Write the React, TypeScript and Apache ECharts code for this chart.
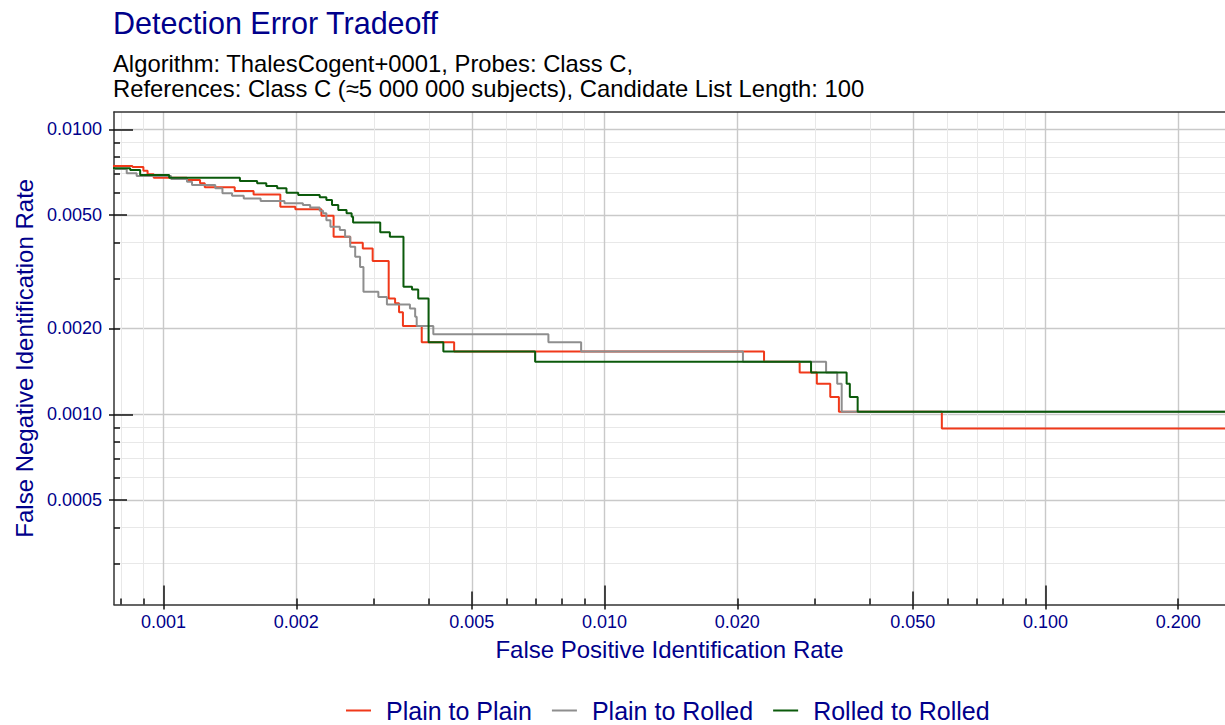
import React, { useEffect, useRef } from "react";
import * as echarts from "echarts";

const TEXT_BLUE = "#00008B";
const FONT = "Liberation Sans, Arial, Helvetica, sans-serif";

const titleText = "Detection Error Tradeoff";
const subtitleLines = [
  "Algorithm: ThalesCogent+0001, Probes: Class C,",
  "References: Class C (\u22485 000 000 subjects), Candidate List Length: 100",
];
const xAxisName = "False Positive Identification Rate";
const yAxisName = "False Negative Identification Rate";

const seriesNames = ["Plain to Plain", "Plain to Rolled", "Rolled to Rolled"];
const seriesColors = ["#f0391a", "#8e8e8e", "#0b5a0b"];

// Plain to Plain (FPIR, FNIR) – step drops
const plainPlainFpir = [0.0007, 0.00085, 0.0009, 0.00092, 0.00095, 0.00113, 0.00121, 0.00124, 0.00145, 0.0016, 0.00184, 0.00199, 0.00228, 0.00243, 0.00265, 0.00283, 0.00298, 0.00324, 0.00335, 0.00342, 0.00349, 0.00385, 0.00456, 0.023, 0.0277, 0.0303, 0.0325, 0.034, 0.0582, 0.3];
const plainPlainFnir = [0.00743, 0.00737, 0.00715, 0.00695, 0.00676, 0.00664, 0.00646, 0.00626, 0.00607, 0.00591, 0.00535, 0.00524, 0.00497, 0.0042, 0.004, 0.00382, 0.00345, 0.00255, 0.00245, 0.00228, 0.00204, 0.00179, 0.00166, 0.00153, 0.0014, 0.00128, 0.00115, 0.00102, 0.000891, 0.000891];

// Plain to Rolled
const plainRolledFpir = [0.0007, 0.000825, 0.000869, 0.00104, 0.00113, 0.00116, 0.00131, 0.00136, 0.00143, 0.00152, 0.00166, 0.00188, 0.00207, 0.00215, 0.00226, 0.0023, 0.00234, 0.00239, 0.00251, 0.00258, 0.00265, 0.00272, 0.00279, 0.00284, 0.00307, 0.00321, 0.00362, 0.00372, 0.00375, 0.00409, 0.00746, 0.00885, 0.0206, 0.0318, 0.0337, 0.0345, 0.3];
const plainRolledFnir = [0.00726, 0.00701, 0.00685, 0.00669, 0.00655, 0.00637, 0.00621, 0.00596, 0.00584, 0.00572, 0.0056, 0.0055, 0.00542, 0.00532, 0.00518, 0.00507, 0.0048, 0.00455, 0.00443, 0.0042, 0.00387, 0.00357, 0.00329, 0.00269, 0.00258, 0.00243, 0.00235, 0.0022, 0.00204, 0.00191, 0.00179, 0.00166, 0.00153, 0.0014, 0.00128, 0.00102, 0.00102];

// Rolled to Rolled
const rolledRolledFpir = [0.0007, 0.00084, 0.000885, 0.00103, 0.00149, 0.00163, 0.00171, 0.00181, 0.0019, 0.00202, 0.00226, 0.00234, 0.00241, 0.00249, 0.0026, 0.00267, 0.00269, 0.0031, 0.00326, 0.0035, 0.00366, 0.00378, 0.00399, 0.00431, 0.00696, 0.0294, 0.0354, 0.036, 0.0375, 0.3];
const rolledRolledFnir = [0.0073, 0.0072, 0.00691, 0.00676, 0.00658, 0.00646, 0.00632, 0.00621, 0.00599, 0.00588, 0.00577, 0.00565, 0.00542, 0.00521, 0.00507, 0.00493, 0.00471, 0.00435, 0.0042, 0.0028, 0.00274, 0.00255, 0.00179, 0.00166, 0.00153, 0.0014, 0.00128, 0.00115, 0.00102, 0.00102];

const xRange = [0.000772, 0.2553];
const yRange = [0.000215, 0.0115];

const xDecadeTicks = [0.001, 0.01, 0.1];
const xFiveTicks = [0.005, 0.05];
const xTwoTicks = [0.002, 0.02, 0.2];
const xMinorTicks = [0.0008, 0.0009, 0.003, 0.004, 0.006, 0.007, 0.008, 0.009, 0.03, 0.04, 0.06, 0.07, 0.08, 0.09];
const xLabelValues = [0.001, 0.002, 0.005, 0.01, 0.02, 0.05, 0.1, 0.2];

const yDecadeTicks = [0.001, 0.01];
const yFiveTicks = [0.0005, 0.005];
const yTwoTicks = [0.002];
const yMinorTicks = [0.0003, 0.0004, 0.0006, 0.0007, 0.0008, 0.0009, 0.003, 0.004, 0.006, 0.007, 0.008, 0.009];
const yLabelValues = [0.0005, 0.001, 0.002, 0.005, 0.01];

const DARK_GRID = { color: "#c9c9c9", width: 1.4 };
const LIGHT_GRID = { color: "#e8e8e8", width: 1 };

function baseAxis(range: number[], position: string): any {
  return {
    type: "log",
    logBase: 10,
    min: range[0],
    max: range[1],
    position,
    gridIndex: 0,
    axisLine: { show: false, onZero: false },
    axisLabel: { show: false },
    axisTick: { show: false },
    splitLine: { show: false },
    minorTick: { show: false },
    minorSplitLine: { show: false },
  };
}

function tickAxis(range: number[], position: string, values: number[], len: number, grid: any, showLine = false): any {
  const a = baseAxis(range, position);
  a.axisTick = {
    show: true,
    customValues: values,
    inside: true,
    length: len,
    lineStyle: { color: "#111", width: 1.5 },
  };
  a.splitLine = { show: true, lineStyle: { color: grid.color, width: grid.width } };
  if (showLine) a.axisLine = { show: true, onZero: false, lineStyle: { color: "#333", width: 1.5 } };
  return a;
}

function labelAxis(range: number[], position: string, values: number[], digits: number, name: string, nameGap: number, margin: number): any {
  const a = baseAxis(range, position);
  a.axisTick = {
    show: true,
    customValues: values,
    inside: false,
    length: 5,
    lineStyle: { color: "#111", width: 1.5 },
  };
  a.axisLabel = {
    show: true,
    customValues: values,
    formatter: (v: number) => Number(v).toFixed(digits),
    fontSize: 18,
    color: TEXT_BLUE,
    fontFamily: FONT,
    margin,
  };
  a.name = name;
  a.nameLocation = "middle";
  a.nameGap = nameGap;
  a.nameTextStyle = { fontSize: 24, color: TEXT_BLUE, fontFamily: FONT };
  return a;
}

function zip(xs: number[], ys: number[]) {
  return xs.map((x, i) => [x, ys[i]]);
}

export default function App() {
  const ref = useRef<HTMLDivElement>(null);
  useEffect(() => {
    if (!ref.current) return;
    const chart = echarts.init(ref.current, undefined, { renderer: "svg" });
    const data = [
      zip(plainPlainFpir, plainPlainFnir),
      zip(plainRolledFpir, plainRolledFnir),
      zip(rolledRolledFpir, rolledRolledFnir),
    ];
    const topAxis = baseAxis(xRange, "top");
    topAxis.axisLine = { show: true, onZero: false, lineStyle: { color: "#333", width: 1.5 } };
    const option: any = {
      animation: false,
      textStyle: { fontFamily: FONT },
      title: {
        text: titleText,
        subtext: subtitleLines.join("\n"),
        left: 113,
        top: 8,
        padding: 0,
        itemGap: 12,
        textStyle: { fontSize: 30.5, color: TEXT_BLUE, fontWeight: "normal", fontFamily: FONT, lineHeight: 30.5 },
        subtextStyle: { fontSize: 23.8, color: "#000", fontFamily: FONT, lineHeight: 25 },
      },
      legend: {
        data: seriesNames,
        left: 346,
        top: 698,
        padding: 0,
        itemWidth: 35,
        itemHeight: 2,
        itemGap: 20,
        icon: "path://M0 0H25V2H0Z M34.99 0H35V0.01H34.99Z",
        selectedMode: false,
        textStyle: { fontSize: 25, lineHeight: 25, color: TEXT_BLUE, fontFamily: FONT },
      },
      grid: { left: 114, top: 112, width: 1111, height: 492.5 },
      xAxis: [
        tickAxis(xRange, "bottom", xMinorTicks, 6, LIGHT_GRID),
        tickAxis(xRange, "bottom", xTwoTicks, 6, DARK_GRID),
        tickAxis(xRange, "bottom", xFiveTicks, 13, DARK_GRID),
        tickAxis(xRange, "bottom", xDecadeTicks, 19, DARK_GRID, true),
        labelAxis(xRange, "bottom", xLabelValues, 3, xAxisName, 32.5, 8),
        topAxis,
      ],
      yAxis: [
        tickAxis(yRange, "left", yMinorTicks, 6, LIGHT_GRID),
        tickAxis(yRange, "left", yTwoTicks, 6, DARK_GRID),
        tickAxis(yRange, "left", yFiveTicks, 13, DARK_GRID),
        tickAxis(yRange, "left", yDecadeTicks, 19, DARK_GRID, true),
        labelAxis(yRange, "left", yLabelValues, 4, yAxisName, 75, 12),
      ],
      series: seriesNames.map((name, i) => ({
        type: "line",
        name,
        xAxisIndex: 3,
        yAxisIndex: 3,
        step: "end",
        symbol: "none",
        showSymbol: false,
        clip: true,
        data: data[i],
        color: seriesColors[i],
        lineStyle: { width: 2, color: seriesColors[i] },
        itemStyle: { color: seriesColors[i] },
        z: 3 + i,
      })),
    };
    chart.setOption(option);
    return () => chart.dispose();
  }, []);
  return (
    <div
      ref={ref}
      style={{ position: "fixed", left: 0, top: 0, width: 1225, height: 725, background: "#fff" }}
    />
  );
}
